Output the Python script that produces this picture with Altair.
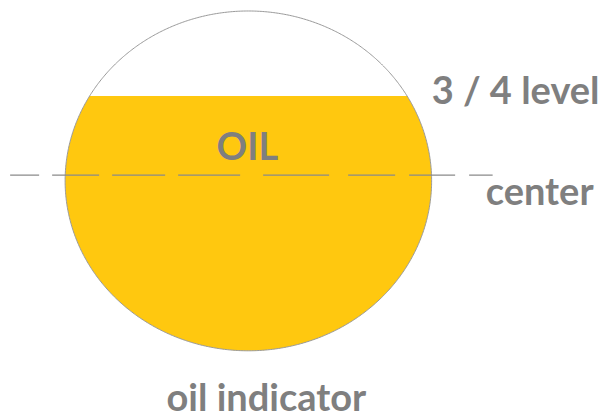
import altair as alt
import numpy as np
import pandas as pd

# ---- values ----
oil_level = 0.75            # oil surface, as a fraction of the tank height
center_level = 0.517        # dashed "center" line as drawn (fraction of height)
center_line_from = -1.30    # dashed line extent, in tank radii
center_line_to = 1.333
labels = ["3 / 4 level", "center", "OIL", "oil indicator"]

W, H = 591, 410

# ---- scales (tank radius = 1 horizontally, height = 1 vertically) ----
XMIN = -1.31165
XMAX = XMIN + W / 184.5
YMIN = -(H - 345) / 344.0
YMAX = YMIN + H / 344.0
xs = alt.Scale(domain=[XMIN, XMAX], nice=False, zero=False)
ys = alt.Scale(domain=[YMIN, YMAX], nice=False, zero=False)

# ---- geometry of the tank built from the values ----
theta = np.linspace(np.pi, 0, 721)
u = np.cos(theta)
top = 0.5 + 0.5 * np.sin(theta)
bot = 0.5 - 0.5 * np.sin(theta)
fill_df = pd.DataFrame({"x": u, "y": bot, "y2": np.minimum(top, oil_level)})

t = np.linspace(0, 2 * np.pi, 721)
outline_df = pd.DataFrame({"x": np.cos(t), "y": 0.5 + 0.5 * np.sin(t), "i": np.arange(len(t))})

line_df = pd.DataFrame({"x": [center_line_from], "x2": [center_line_to], "y": [center_level]})

GRAY = "#7f7f7f"
FONT = "Lato"
FS = 38

oil = alt.Chart(fill_df).mark_area(color="#FFC80F", opacity=1).encode(
    x=alt.X("x:Q", scale=xs, axis=None),
    y=alt.Y("y:Q", scale=ys, axis=None),
    y2="y2:Q",
)

outline = alt.Chart(outline_df).mark_line(color="#9a9a9a", strokeWidth=1).encode(
    x=alt.X("x:Q", scale=xs, axis=None),
    y=alt.Y("y:Q", scale=ys, axis=None),
    order="i:Q",
)

dash = alt.Chart(line_df).mark_rule(
    color="#8a8a8a", strokeWidth=1.3,
    strokeDash=[29, 13, 47, 13, 53, 13, 62, 23, 66, 19, 47, 14, 46, 14, 27],
).encode(
    x=alt.X("x:Q", scale=xs, axis=None),
    x2="x2:Q",
    y=alt.Y("y:Q", scale=ys, axis=None),
)


def label(text, x, y, dx, dy):
    df = pd.DataFrame({"label": [text], "x": [x], "y": [y]})
    return alt.Chart(df).mark_text(
        font=FONT, fontSize=FS, fontWeight="bold", color=GRAY,
        align="center", baseline="alphabetic", dx=dx, dy=dy,
    ).encode(
        x=alt.X("x:Q", scale=xs, axis=None),
        y=alt.Y("y:Q", scale=ys, axis=None),
        text="label:N",
    )


t_level = label(labels[0], 1.0, oil_level, 84, 8)
t_center = label(labels[1], 1.0, center_level, 108, 30)
t_oil = label(labels[2], 0.0, center_level, -1, -15)
t_title = label(labels[3], 0.0, 0.0, 18, 60)

chart = alt.layer(oil, outline, dash, t_level, t_center, t_oil, t_title).properties(
    width=W,
    height=H,
    padding=0,
    autosize=alt.AutoSizeParams(type="fit", contains="padding"),
    background="white",
).configure_view(stroke=None)

chart.save("out.html", embed_options={"renderer": "svg", "actions": False})
